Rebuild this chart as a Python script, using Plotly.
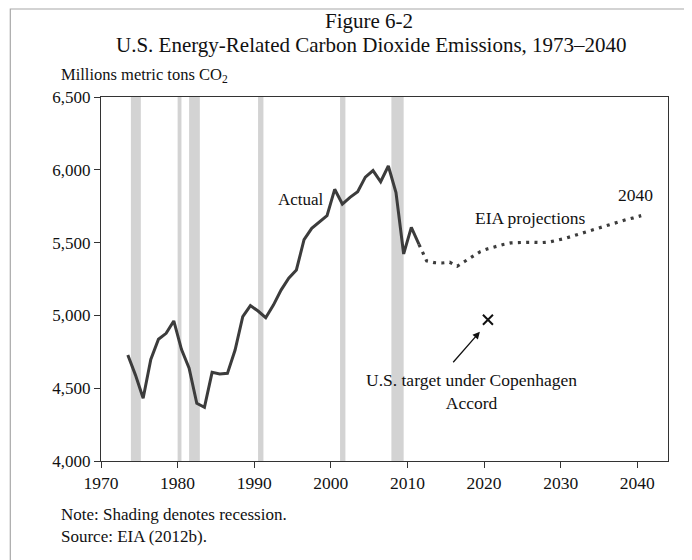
import plotly.graph_objects as go

# ---- data ----
actual_years = list(range(1973, 2012))
actual_values = [4728, 4590, 4431, 4698, 4836, 4877, 4962, 4767, 4637, 4396,
                 4369, 4609, 4598, 4602, 4762, 4991, 5067, 5030, 4984, 5071,
                 5174, 5255, 5312, 5520, 5598, 5644, 5685, 5866, 5765, 5811,
                 5850, 5950, 5995, 5918, 6026, 5843, 5422, 5605, 5488]

proj_years = list(range(2011, 2041))
proj_values = [5488, 5374, 5362, 5360, 5365, 5338, 5372, 5405, 5438, 5458,
               5474, 5487, 5498, 5502, 5502, 5502, 5500, 5504, 5514, 5528,
               5544, 5560, 5578, 5596, 5612, 5628, 5643, 5657, 5670, 5685]

target_year = [2020]
target_value = [4970]

recession_start = [1973.9, 1980.0, 1981.5, 1990.5, 2001.2, 2007.9]
recession_end = [1975.2, 1980.5, 1982.9, 1991.2, 2001.9, 2009.5]

x_ticks = [1970, 1980, 1990, 2000, 2010, 2020, 2030, 2040]
y_ticks = [4000, 4500, 5000, 5500, 6000, 6500]

# page has an 8px body margin; target plot box at page px x 100.7..667.7, y 97..461
OFF = 8
W, H = 692, 560
ML, MR, MT, MB = 92.7, 32.3, 89, 107
PW, PH = W - ML - MR, H - MT - MB


def px(xp):
    return (xp - OFF - ML) / PW


def py(yp):
    return (OFF + H - MB - yp) / PH


SERIF = "Liberation Serif, Times New Roman, serif"
LINE = "#3c3c3c"
TXT = "#111"

fig = go.Figure()

fig.add_trace(go.Scatter(
    x=[y + 0.5 for y in actual_years], y=actual_values, mode="lines",
    line=dict(color=LINE, width=3), hoverinfo="skip", showlegend=False))

fig.add_trace(go.Scatter(
    x=[y + 0.5 for y in proj_years], y=proj_values, mode="lines",
    line=dict(color=LINE, width=3.2, dash="3px,5.3px"), hoverinfo="skip",
    showlegend=False))

fig.add_trace(go.Scatter(
    x=[y + 0.5 for y in target_year], y=target_value, mode="markers",
    marker=dict(symbol="x-thin", size=10, color=TXT,
                line=dict(color=TXT, width=2)),
    hoverinfo="skip", showlegend=False))

shapes = []
for s, e in zip(recession_start, recession_end):
    shapes.append(dict(type="rect", xref="x", yref="paper", x0=s, x1=e,
                       y0=0, y1=1, fillcolor="#d3d3d3", line=dict(width=0),
                       layer="below"))
# figure border
shapes.append(dict(type="rect", xref="paper", yref="paper",
                   x0=px(10), x1=px(688), y0=py(585), y1=py(9),
                   line=dict(color="#a8a8a8", width=1.2),
                   fillcolor="rgba(0,0,0,0)", layer="above"))

annotations = [
    dict(text="Figure 6-2", xref="paper", yref="paper", x=px(369), y=py(21),
         showarrow=False, font=dict(size=21, family=SERIF, color=TXT),
         xanchor="center", yanchor="middle"),
    dict(text="U.S. Energy-Related Carbon Dioxide Emissions, 1973\u20132040",
         xref="paper", yref="paper", x=px(371), y=py(45), showarrow=False,
         font=dict(size=21, family=SERIF, color=TXT),
         xanchor="center", yanchor="middle"),
    dict(text="Millions metric tons CO<sub>2</sub>", xref="paper", yref="paper",
         x=px(59), y=py(75), showarrow=False,
         font=dict(size=16.5, family=SERIF, color=TXT),
         xanchor="left", yanchor="middle"),
    dict(text="Note: Shading denotes recession.", xref="paper", yref="paper",
         x=px(59), y=py(514), showarrow=False,
         font=dict(size=17, family=SERIF, color=TXT),
         xanchor="left", yanchor="middle"),
    dict(text="Source: EIA (2012b).", xref="paper", yref="paper",
         x=px(59), y=py(536), showarrow=False,
         font=dict(size=17, family=SERIF, color=TXT),
         xanchor="left", yanchor="middle"),
    dict(text="Actual", x=1999.3, y=5793, showarrow=False,
         font=dict(size=17, family=SERIF, color=TXT),
         xanchor="right", yanchor="middle"),
    dict(text="EIA projections", x=2026.1, y=5669, showarrow=False,
         font=dict(size=17.5, family=SERIF, color=TXT),
         xanchor="center", yanchor="middle"),
    dict(text="2040", x=2039.8, y=5827, showarrow=False,
         font=dict(size=17.5, family=SERIF, color=TXT),
         xanchor="center", yanchor="middle"),
    dict(text="U.S. target under Copenhagen<br>Accord", x=2018.3, y=4476,
         showarrow=False, font=dict(size=17.5, family=SERIF, color=TXT),
         xanchor="center", yanchor="middle"),
    dict(text="", x=2019.45, y=4888, showarrow=True, ax=-28, ay=32,
         arrowhead=2, arrowsize=1.1, arrowwidth=1.3, arrowcolor=TXT),
]

fig.update_layout(
    width=W, height=H,
    margin=dict(l=ML, r=MR, t=MT, b=MB, pad=0),
    paper_bgcolor="white", plot_bgcolor="white",
    shapes=shapes, annotations=annotations,
    font=dict(family=SERIF, color=TXT),
    xaxis=dict(range=[1970, 2044], tickvals=x_ticks,
               ticktext=[str(v) for v in x_ticks],
               showgrid=False, zeroline=False, showline=True, mirror=True,
               linecolor="#333", linewidth=1, ticks="outside", ticklen=6,
               tickcolor="#333", tickfont=dict(size=17.5, family=SERIF, color=TXT)),
    yaxis=dict(range=[4000, 6500], tickvals=y_ticks,
               ticktext=[f"{v:,}" for v in y_ticks],
               showgrid=False, zeroline=False, showline=True, mirror=True,
               linecolor="#333", linewidth=1, ticks="outside", ticklen=6,
               tickcolor="#333", tickfont=dict(size=17, family=SERIF, color=TXT)),
)

fig.write_html("out.html")
